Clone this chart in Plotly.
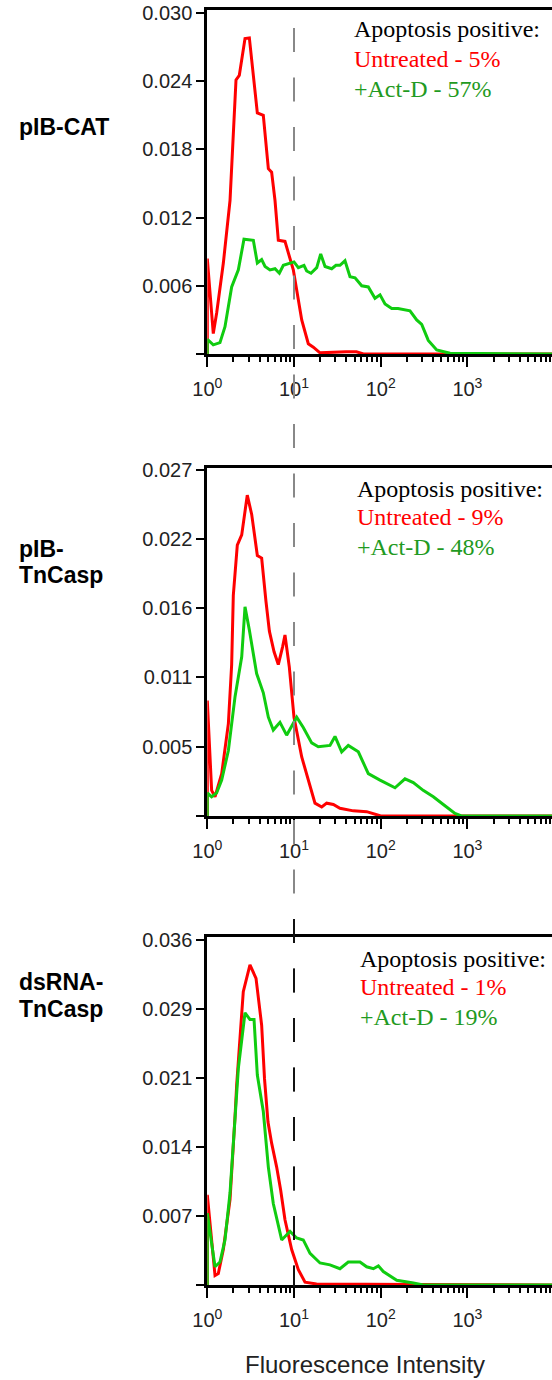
import numpy as np
import plotly.graph_objects as go

W, H = 552, 1380

# ---------------- data ----------------
panel_names = [["pIB-CAT"], ["pIB-", "TnCasp"], ["dsRNA-", "TnCasp"]]
untreated_pct = [5, 9, 1]
actd_pct = [57, 48, 19]

y_tick_vals = [
    [0, 0.006, 0.012, 0.018, 0.024, 0.030],
    [0, 0.0054, 0.0108, 0.0162, 0.0216, 0.027],
    [0, 0.0072, 0.0144, 0.0216, 0.0288, 0.036],
]
y_tick_text = [
    ["", "0.006", "0.012", "0.018", "0.024", "0.030"],
    ["", "0.005", "0.011", "0.016", "0.022", "0.027"],
    ["", "0.007", "0.014", "0.021", "0.029", "0.036"],
]
y_max = [0.0303, 0.02714, 0.03634]

x_tick_vals = [1, 10, 100, 1000]
x_tick_text = ["10<sup>0</sup>", "10<sup>1</sup>", "10<sup>2</sup>", "10<sup>3</sup>"]
gate_x = 10

# fluorescence intensity given as log10 decades, histogram heights
p1_red_logx = [0, 0, 0.069, 0.108, 0.185, 0.262, 0.331, 0.369, 0.435, 0.485,
               0.577, 0.646, 0.704, 0.742, 0.781, 0.819, 0.896, 0.992, 1.089, 1.165,
               1.223, 1.30, 1.60, 1.72, 1.80, 3.979]
p1_red_y = [0, 0.0084, 0.0018, 0.0036, 0.0080, 0.0135, 0.0241, 0.0245, 0.02775, 0.0278,
            0.0212, 0.0210, 0.0163, 0.0160, 0.0135, 0.0100, 0.0099, 0.0074, 0.0030, 0.0009,
            0.0006, 0.0001, 0.0002, 0.0002, 0.0, 0.0]
p1_grn_logx = [0, 0, 0.069, 0.146, 0.204, 0.281, 0.358, 0.423, 0.531, 0.577, 0.627,
               0.666, 0.723, 0.781, 0.831, 0.877, 1.0, 1.05, 1.115, 1.146, 1.196,
               1.262, 1.308, 1.358, 1.435, 1.484, 1.53, 1.588, 1.646, 1.704, 1.781,
               1.857, 1.934, 1.992, 2.05, 2.127, 2.2, 2.338, 2.415, 2.473, 2.549,
               2.646, 2.80, 3.979]
p1_grn_y = [0, 0.0013, 0.0008, 0.0010, 0.0024, 0.0059, 0.0074, 0.0101, 0.0100, 0.0080, 0.0083,
            0.0077, 0.0074, 0.0075, 0.0071, 0.0078, 0.0081, 0.0076, 0.0078, 0.0073, 0.0071,
            0.0076, 0.0088, 0.0077, 0.0075, 0.0078, 0.0078, 0.0082, 0.0068, 0.0067, 0.0060,
            0.0059, 0.0049, 0.0052, 0.0044, 0.0040, 0.0040, 0.0038, 0.0030, 0.0026, 0.0012,
            0.00035, 0.00006, 0.0]

p2_red_logx = [0, 0, 0.05, 0.089, 0.166, 0.243, 0.281, 0.30, 0.346, 0.397,
               0.461, 0.512, 0.577, 0.627, 0.677, 0.716, 0.77, 0.819, 0.869, 0.896,
               0.946, 1.0, 1.089, 1.185, 1.242, 1.32, 1.377, 1.454, 1.53, 1.684,
               1.838, 1.954, 2.0, 3.979]
p2_red_y = [0, 0.0090, 0.0020, 0.0015, 0.0033, 0.0072, 0.0118, 0.0172, 0.0211, 0.0219,
            0.0250, 0.0235, 0.0203, 0.0201, 0.0167, 0.0144, 0.0128, 0.0118, 0.0132, 0.0141,
            0.0116, 0.0077, 0.0046, 0.0023, 0.0010, 0.0007, 0.0010, 0.0009, 0.0006, 0.0004,
            0.00034, 0.0001, 0.0, 0.0]
p2_grn_logx = [0, 0, 0.05, 0.108, 0.166, 0.243, 0.32, 0.397, 0.435, 0.485,
               0.569, 0.646, 0.704, 0.761, 0.838, 0.915, 1.031, 1.107, 1.204, 1.28,
               1.415, 1.473, 1.55, 1.626, 1.742, 1.857, 1.992, 2.165, 2.28, 2.376,
               2.49, 2.607, 2.722, 2.857, 2.93, 3.979]
p2_grn_y = [0, 0.0018, 0.0015, 0.0018, 0.0028, 0.0051, 0.0093, 0.0124, 0.0163, 0.0145,
            0.0111, 0.0096, 0.0077, 0.0067, 0.0073, 0.0063, 0.0077, 0.0069, 0.0057, 0.0054,
            0.0055, 0.0062, 0.0050, 0.0055, 0.0050, 0.0033, 0.0028, 0.0022, 0.0029, 0.0026,
            0.0020, 0.0015, 0.0009, 0.0002, 0.0, 0.0]

p3_red_logx = [0, 0, 0.089, 0.127, 0.185, 0.262, 0.32, 0.339, 0.415, 0.492,
               0.562, 0.627, 0.66, 0.70, 0.742, 0.8, 0.846, 0.896, 0.973, 1.05,
               1.127, 1.26, 2.38, 3.979]
p3_red_y = [0, 0.0094, 0.0010, 0.0012, 0.0037, 0.0089, 0.0176, 0.0209, 0.0306, 0.0334,
            0.0320, 0.0271, 0.0215, 0.0170, 0.0148, 0.0123, 0.0099, 0.0068, 0.0037, 0.0016,
            0.0003, 0.0001, 0.00005, 0.0]
p3_grn_logx = [0, 0, 0.089, 0.146, 0.204, 0.262, 0.308, 0.358, 0.435, 0.492,
               0.539, 0.577, 0.646, 0.666, 0.704, 0.761, 0.858, 0.954, 1.031, 1.107,
               1.185, 1.3, 1.415, 1.53, 1.626, 1.761, 1.838, 1.915, 1.973, 2.03,
               2.185, 2.377, 2.49, 3.979]
p3_grn_y = [0, 0.0075, 0.0019, 0.0024, 0.0047, 0.0096, 0.0158, 0.0226, 0.0284, 0.0277,
            0.0277, 0.0219, 0.0181, 0.0158, 0.0123, 0.0085, 0.0047, 0.0056, 0.0049, 0.0047,
            0.0033, 0.0023, 0.0021, 0.0017, 0.0024, 0.0024, 0.0019, 0.0017, 0.0020, 0.0014,
            0.0005, 0.0002, 0.0, 0.0]

red_series = [(p1_red_logx, p1_red_y), (p2_red_logx, p2_red_y), (p3_red_logx, p3_red_y)]
grn_series = [(p1_grn_logx, p1_grn_y), (p2_grn_logx, p2_grn_y), (p3_grn_logx, p3_grn_y)]

# ---------------- layout geometry (pixels) ----------------
plot_left = 207.3
px_per_decade = 86.7
panel_top = [9.5, 467.7, 936.7]
panel_bottom = [354, 816, 1285]
legend_left = [351.7, 355, 358.3]
legend_base = [[37.3, 66.7, 96.7], [496.7, 525, 555], [966.7, 995, 1025]]
label_base = [[135], [557.3, 583.3], [990, 1016.7]]

RED = "#ff0000"
GREEN = "#10cc10"
GREEN_TXT = "#1f9a22"
SANS = "Liberation Sans, Arial, sans-serif"
SERIF = "Liberation Serif, Times New Roman, serif"


def yp(p):
    return 1 - p / H


x_right = (W - plot_left) / px_per_decade
minor_vals = [m * 10 ** e for e in range(4) for m in range(2, 10)]

fig = go.Figure()
layout = dict(width=W, height=H, margin=dict(l=0, r=0, t=0, b=0, autoexpand=False),
              paper_bgcolor="white", plot_bgcolor="white", showlegend=False)

for i in range(3):
    sfx = "" if i == 0 else str(i + 1)
    for (lx, yy), col in [(red_series[i], RED), (grn_series[i], GREEN)]:
        fig.add_trace(go.Scatter(x=10 ** np.array(lx), y=yy, mode="lines",
                                 line=dict(color=col, width=3),
                                 xaxis="x" + sfx, yaxis="y" + sfx, hoverinfo="skip"))
    layout["xaxis" + sfx] = dict(
        type="log", domain=[plot_left / W, 1], range=[0, x_right], anchor="y" + sfx,
        automargin=False,
        showline=True, linewidth=3, linecolor="black", mirror=True,
        ticks="outside", ticklen=10, tickwidth=2, tickcolor="black",
        tickmode="array", tickvals=x_tick_vals, ticktext=x_tick_text,
        ticklabelstandoff=5,
        tickfont=dict(family=SANS, size=20, color="#222"),
        minor=dict(ticks="outside", ticklen=5, tickwidth=1.5, tickcolor="black",
                   tickmode="array", tickvals=minor_vals, showgrid=False),
        showgrid=False, zeroline=False, layer="below traces")
    layout["yaxis" + sfx] = dict(
        domain=[yp(panel_bottom[i]), yp(panel_top[i])], range=[0, y_max[i]],
        anchor="x" + sfx, automargin=False,
        showline=True, linewidth=3, linecolor="black", mirror=False,
        ticks="outside", ticklen=8, tickwidth=2, tickcolor="black",
        tickmode="array", tickvals=y_tick_vals[i], ticktext=y_tick_text[i],
        tickfont=dict(family=SANS, size=20, color="#222"),
        showgrid=False, zeroline=False, layer="below traces")

annotations = []
for i in range(3):
    texts = [("Apoptosis positive:", "black"),
             (f"Untreated - {untreated_pct[i]}%", RED),
             (f"+Act-D - {actd_pct[i]}%", GREEN_TXT)]
    for (t, c), b in zip(texts, legend_base[i]):
        annotations.append(dict(text=t, x=legend_left[i] / W, y=yp(b - 0.34 * 24),
                                xref="paper", yref="paper", xanchor="left", yanchor="middle",
                                showarrow=False, font=dict(family=SERIF, size=24, color=c)))
    for t, b in zip(panel_names[i], label_base[i]):
        annotations.append(dict(text=f"<b>{t}</b>", x=17 / W, y=yp(b - 0.35 * 23),
                                xref="paper", yref="paper", xanchor="left", yanchor="middle",
                                showarrow=False, font=dict(family=SANS, size=23, color="black")))

annotations.append(dict(text="Fluorescence Intensity", x=365 / W, y=yp(1373 - 0.35 * 24),
                        xref="paper", yref="paper", xanchor="center", yanchor="middle",
                        showarrow=False, font=dict(family=SANS, size=24, color="#222")))
layout["annotations"] = annotations

layout["shapes"] = [
    dict(type="line", xref="x", yref="paper", x0=gate_x, x1=gate_x, y0=yp(28), y1=yp(1287),
         line=dict(color="#888888", width=2, dash="24px,25.5px"), layer="above"),
    dict(type="line", xref="x", yref="paper", x0=gate_x, x1=gate_x, y0=yp(919), y1=yp(1287),
         line=dict(color="#111111", width=2, dash="24px,25.5px"), layer="above"),
]

fig.update_layout(**layout)
fig.write_html("out.html")
